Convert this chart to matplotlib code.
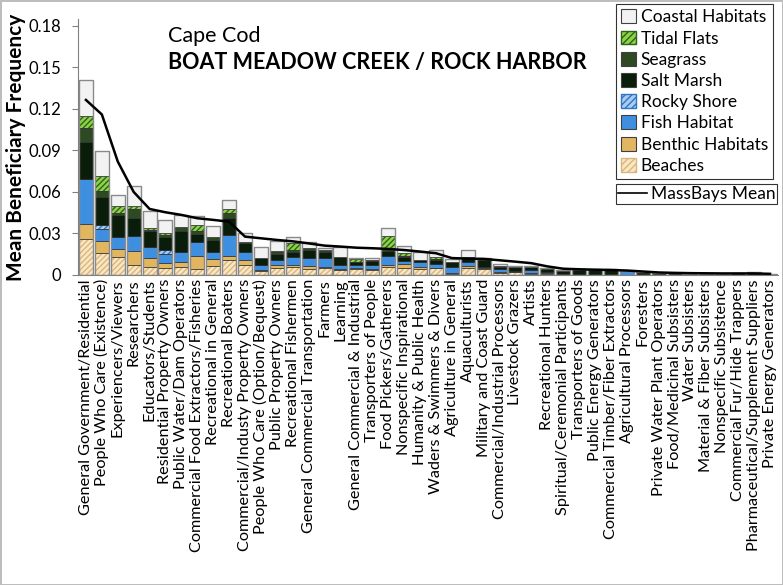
import numpy as np
import matplotlib
matplotlib.use("Agg")
import matplotlib.pyplot as plt
from matplotlib.patches import Patch
from matplotlib.lines import Line2D

plt.rcParams['font.family'] = ['Lato', 'DejaVu Sans']
plt.rcParams['hatch.linewidth'] = 1.0

categories = [
    "General Government/Residential", "People Who Care (Existence)", "Experiencers/Viewers",
    "Researchers", "Educators/Students", "Residential Property Owners",
    "Public Water/Dam Operators", "Commercial Food Extractors/Fisheries", "Recreational in General",
    "Recreational Boaters", "Commercial/Industy Property Owners", "People Who Care (Option/Bequest)",
    "Public Property Owners", "Recreational Fishermen", "General Commercial Transportation",
    "Farmers", "Learning", "General Commercial & Industrial", "Transporters of People",
    "Food Pickers/Gatherers", "Nonspecific Inspirational", "Humanity & Public Health",
    "Waders & Swimmers & Divers", "Agriculture in General", "Aquaculturists",
    "Military and Coast Guard", "Commercial/Industrial Processors", "Livestock Grazers",
    "Artists", "Recreational Hunters", "Spiritual/Ceremonial Participants",
    "Transporters of Goods", "Public Energy Generators", "Commercial Timber/Fiber Extractors",
    "Agricultural Processors", "Foresters", "Private Water Plant Operators",
    "Food/Medicinal Subsisters", "Water Subsisters", "Material & Fiber Subsisters",
    "Nonspecific Subsistence", "Commercial Fur/Hide Trappers",
    "Pharmaceutical/Supplement Suppliers", "Private Energy Generators",
]

# habitat components, bottom to top
beaches = [0.026, 0.0156, 0.013, 0.0072, 0.006, 0.0053, 0.0054, 0.0041, 0.0067, 0.0105,
           0.0072, 0.0025, 0.0053, 0.0056, 0.0041, 0.0048, 0.0036, 0.0045, 0.0035, 0.0058,
           0.0053, 0.0043, 0.0048, 0.001, 0.0048, 0.0045, 0.0015, 0.0024, 0.001, 0.0008,
           0, 0, 0, 0, 0, 0, 0, 0, 0, 0, 0, 0, 0, 0]
benthic = [0.011, 0.0089, 0.0055, 0.0104, 0.0065, 0.0032, 0.0036, 0.0094, 0.0046, 0.0035,
           0.0038, 0.0008, 0.0019, 0.0016, 0.0026, 0.0012, 0.0004, 0.0008, 0.0005, 0.0017,
           0.0024, 0.0017, 0, 0.0002, 0.0019, 0.0003, 0.0009, 0, 0.0002, 0.0003,
           0, 0, 0, 0, 0, 0, 0, 0, 0, 0, 0, 0, 0, 0]
fish = [0.032, 0.0085, 0.0092, 0.0108, 0.0074, 0.0065, 0.0076, 0.0101, 0.0055, 0.015,
        0.0058, 0.0039, 0.0036, 0.0056, 0.0058, 0.006, 0.0032, 0.0019, 0.0035, 0.006,
        0.0024, 0.0036, 0.0029, 0.0048, 0.0029, 0.0012, 0.0019, 0.0006, 0.0024, 0.0009,
        0.0004, 0.0003, 0.0002, 0, 0.0028, 0, 0, 0, 0, 0, 0, 0, 0, 0]
rocky = [0, 0.0028, 0, 0, 0, 0.003, 0, 0, 0, 0,
         0, 0, 0, 0, 0, 0, 0, 0, 0, 0,
         0, 0, 0, 0, 0, 0, 0, 0, 0, 0,
         0, 0, 0, 0, 0, 0, 0, 0, 0, 0, 0, 0, 0, 0]
salt_marsh = [0.027, 0.0207, 0.0158, 0.013, 0.0116, 0.0095, 0.0154, 0.006, 0.0084, 0.012,
              0.0064, 0.0048, 0.0044, 0.0041, 0.0055, 0.0045, 0.0061, 0.0018, 0.0025, 0.0035,
              0.0029, 0.0012, 0.0028, 0.0036, 0.0029, 0.0045, 0.0015, 0.0025, 0.0019, 0.0023,
              0.0028, 0.0033, 0.0034, 0.0036, 0.0003, 0.0018, 0.0012, 0.0011, 0.001, 0.001,
              0.001, 0.0011, 0.0018, 0.0006]
seagrass = [0.010, 0.004, 0.0015, 0.0064, 0.001, 0.0017, 0.0029, 0.0022, 0.0025, 0.0035,
            0.0006, 0, 0.0012, 0.0011, 0.0013, 0.0011, 0, 0.0006, 0.0005, 0.0025,
            0.0007, 0, 0.0011, 0, 0.0003, 0.0011, 0.0007, 0.0005, 0.0005, 0.0004,
            0.0004, 0.0004, 0.0004, 0.0004, 0, 0.0002, 0, 0, 0, 0, 0, 0, 0, 0]
tidal_flats = [0.009, 0.0113, 0.005, 0.0017, 0.0017, 0.0008, 0, 0.0042, 0, 0.0029,
               0.0002, 0, 0.0012, 0.0049, 0, 0.0007, 0, 0.0017, 0, 0.0089,
               0.0024, 0, 0.0017, 0, 0.0005, 0, 0, 0, 0, 0,
               0, 0, 0, 0, 0, 0, 0, 0, 0, 0, 0, 0, 0, 0]
coastal = [0.026, 0.0181, 0.0078, 0.0149, 0.0118, 0.0095, 0.0081, 0.0067, 0.0079, 0.0067,
           0.006, 0.0085, 0.007, 0.0048, 0.0043, 0.0009, 0.0067, 0.0012, 0.002, 0.0054,
           0.0051, 0.0056, 0.0047, 0.0017, 0.005, 0.0009, 0.0012, 0.0007, 0.0007, 0.0006,
           0, 0, 0, 0, 0, 0, 0, 0, 0, 0, 0, 0, 0, 0]

massbays_mean = [0.1265, 0.116, 0.082, 0.060, 0.0477, 0.0453, 0.0434, 0.041, 0.0398, 0.0385,
                 0.0277, 0.0265, 0.0253, 0.0243, 0.0228, 0.0212, 0.0205, 0.0197, 0.0193, 0.0188,
                 0.018, 0.0169, 0.0157, 0.0122, 0.0118, 0.0116, 0.0106, 0.0096, 0.0085, 0.0062,
                 0.0045, 0.0041, 0.0038, 0.0036, 0.0032, 0.0025, 0.0018, 0.0015, 0.0013, 0.0012,
                 0.0011, 0.0011, 0.0011, 0.0008]

ytick_vals = [0, 0.03, 0.06, 0.09, 0.12, 0.15, 0.18]
ytick_labels = ["0", "0.03", "0.06", "0.09", "0.12", "0.15", "0.18"]

# name, values, face, hatch colour, hatch
layers = [
    ("Beaches", beaches, "#fbe6c4", "#d8b77a", "//////"),
    ("Benthic Habitats", benthic, "#e2b561", None, None),
    ("Fish Habitat", fish, "#3f8fe0", None, None),
    ("Rocky Shore", rocky, "#a9ccf0", "#2e75c6", "//////"),
    ("Salt Marsh", salt_marsh, "#0a1c0a", None, None),
    ("Seagrass", seagrass, "#2e4a22", None, None),
    ("Tidal Flats", tidal_flats, "#8fd24a", "#2a6318", "//////"),
    ("Coastal Habitats", coastal, "#f2f2f2", None, None),
]

fig = plt.figure(figsize=(7.83, 5.85), dpi=100)
fig.patch.set_edgecolor("#bdbdbd")
fig.patch.set_linewidth(2)
ax = fig.add_axes([0.0996, 0.530, 0.894, 0.4375])

x = np.arange(len(categories))
w = 0.88
bottom = np.zeros(len(categories))
handles = []
for name, vals, face, hcol, hatch in layers:
    vals = np.array(vals)
    if hatch:
        ax.bar(x, vals, w, bottom=bottom, color=face, edgecolor=hcol, hatch=hatch, linewidth=0)
        ax.bar(x, vals, w, bottom=bottom, fill=False, edgecolor="#303030", linewidth=0.5)
        handles.append(Patch(facecolor=face, edgecolor=hcol, hatch="/////", label=name))
    else:
        ax.bar(x, vals, w, bottom=bottom, color=face, edgecolor="#303030", linewidth=0.5)
        handles.append(Patch(facecolor=face, edgecolor="#404040", linewidth=0.8, label=name))
    bottom = bottom + vals

# grey outline around each whole bar
ax.bar(x, bottom, w, fill=False, edgecolor="#8a8a8a", linewidth=1.0)

ax.plot(x, massbays_mean, color="black", linewidth=1.8)

ax.set_xlim(-0.5, len(categories) - 0.5)
ax.set_ylim(0, 0.185)
ax.set_yticks(ytick_vals)
ax.set_yticklabels(ytick_labels, fontsize=12)
ax.set_xticks(x)
ax.set_xticklabels(categories, rotation=90, fontsize=11.7)
ax.tick_params(axis="x", length=0, pad=3)
ax.tick_params(axis="y", length=4, color="#808080", pad=8)
for s in ["top", "right"]:
    ax.spines[s].set_visible(False)
ax.spines["left"].set_color("#808080")
ax.spines["bottom"].set_color("#808080")
ax.set_ylabel("Mean Beneficiary Frequency", fontsize=15, fontweight="bold")
ax.yaxis.set_label_coords(-0.074, 0.5)

ax.text(0.128, 0.935, "Cape Cod", transform=ax.transAxes, fontsize=15.5, va="center")
ax.text(0.128, 0.83, "BOAT MEADOW CREEK / ROCK HARBOR", transform=ax.transAxes,
        fontsize=15.5, fontweight="bold", va="center")

leg1 = ax.legend(handles=handles[::-1], loc="upper left", bbox_to_anchor=(0.768, 1.058),
                 fontsize=12.5, frameon=True, fancybox=False, edgecolor="black",
                 handlelength=0.85, handleheight=0.85, handletextpad=0.3, labelspacing=0.3,
                 borderpad=0.3, borderaxespad=0)
leg1.get_frame().set_linewidth(0.8)
ax.add_artist(leg1)
leg2 = ax.legend(handles=[Line2D([], [], color="black", linewidth=1.2, label="MassBays Mean")],
                 loc="upper left", bbox_to_anchor=(0.768, 0.355), fontsize=12.5,
                 frameon=True, fancybox=False, edgecolor="black", handlelength=1.7,
                 handletextpad=0.2, borderpad=0.12, borderaxespad=0)
leg2.get_frame().set_linewidth(0.8)

fig.savefig("out.png", dpi=100, edgecolor=fig.get_edgecolor())
